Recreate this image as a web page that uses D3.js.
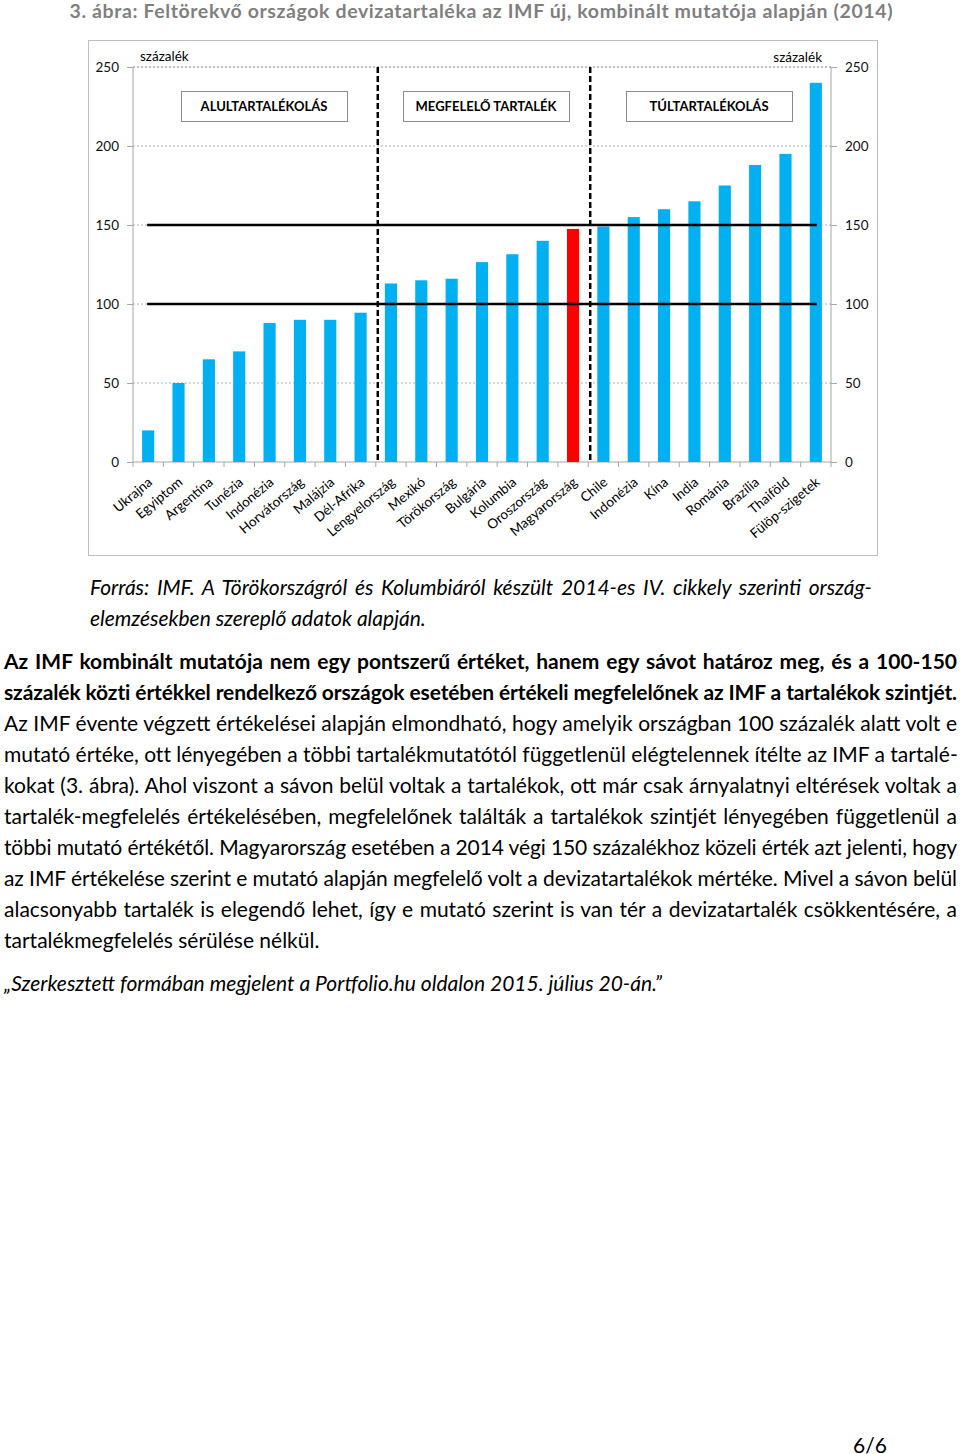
<!doctype html>
<html>
<head>
<meta charset="utf-8">
<title>3. ábra: Feltörekvő országok devizatartaléka</title>
<script src="https://d3js.org/d3.v7.min.js"></script>
<style>
    body { margin: 0; background: #fff; width: 960px; height: 1454px; position: relative; overflow: hidden; font-family: Lato, "Open Sans", sans-serif; }
    svg { position: absolute; left: 0; top: 0; }
    .txt { position: absolute; font-size: 21px; line-height: 31px; color: #000; }
    .txt div { white-space: nowrap; height: 31px; }
    .just { text-align: justify; text-align-last: justify; }
</style>
</head>
<body>
<svg id="chart" width="960" height="1454"></svg>

<script>
// data
const countries = ["Ukrajna", "Egyiptom", "Argentína", "Tunézia", "Indonézia", "Horvátország", "Malájzia", "Dél-Afrika",
    "Lengyelország", "Mexikó", "Törökország", "Bulgária", "Kolumbia", "Oroszország", "Magyarország",
    "Chile", "Indonézia", "Kína", "India", "Románia", "Brazília", "Thaiföld", "Fülöp-szigetek"];
const values = [20, 50, 65, 70, 88, 90, 90, 94.5, 113, 115, 116, 126.5, 131.5, 140, 147.5,
    149, 155, 160, 165, 175, 188, 195, 240];
const highlight = 14; // Magyarország
const zoneLabels = ["ALULTARTALÉKOLÁS", "MEGFELELŐ TARTALÉK", "TÚLTARTALÉKOLÁS"];
const zoneBreaks = [8, 15]; // first bar index of the 2nd and 3rd zone
const bandLines = [100, 150];
const yTicks = [0, 50, 100, 150, 200, 250];

const title = "3. ábra: Feltörekvő országok devizatartaléka az IMF új, kombinált mutatója alapján (2014)";
const sourceLines = ["Forrás: IMF. A Törökországról és Kolumbiáról készült 2014-es IV. cikkely szerinti ország-",
    "elemzésekben szereplő adatok alapján."];
const boldLines = ["Az IMF kombinált mutatója nem egy pontszerű értéket, hanem egy sávot határoz meg, és a 100-150",
    "százalék közti értékkel rendelkező országok esetében értékeli megfelelőnek az IMF a tartalékok szintjét."];
const bodyLines = ["Az IMF évente végzett értékelései alapján elmondható, hogy amelyik országban 100 százalék alatt volt e",
    "mutató értéke, ott lényegében a többi tartalékmutatótól függetlenül elégtelennek ítélte az IMF a tartalé-",
    "kokat (3. ábra). Ahol viszont a sávon belül voltak a tartalékok, ott már csak árnyalatnyi eltérések voltak a",
    "tartalék-megfelelés értékelésében, megfelelőnek találták a tartalékok szintjét lényegében függetlenül a",
    "többi mutató értékétől. Magyarország esetében a 2014 végi 150 százalékhoz közeli érték azt jelenti, hogy",
    "az IMF értékelése szerint e mutató alapján megfelelő volt a devizatartalékok mértéke. Mivel a sávon belül",
    "alacsonyabb tartalék is elegendő lehet, így e mutató szerint is van tér a devizatartalék csökkentésére, a",
    "tartalékmegfelelés sérülése nélkül."];
const quote = "„Szerkesztett formában megjelent a Portfolio.hu oldalon 2015. július 20-án.”";
const pageNo = "6/6";

const svg = d3.select("#chart");
const plotL = 133, plotR = 831, plotT = 67, plotB = 462;

const x = d3.scaleBand()
    .domain(d3.range(countries.length))
    .range([plotL, plotR])
    .paddingInner(0.6)
    .paddingOuter(0.3);
const y = d3.scaleLinear().domain([0, 250]).range([plotB, plotT]);
const bw = x.bandwidth();
const step = x.step();

// title
svg.append("text")
    .attr("x", 481).attr("y", 18)
    .attr("text-anchor", "middle")
    .attr("textLength", 823).attr("lengthAdjust", "spacing")
    .style("font-size", "19.5px").style("font-weight", "bold").style("fill", "#7f7f7f")
    .text(title);

// chart frame
svg.append("rect")
    .attr("x", 88.5).attr("y", 40.5).attr("width", 789).attr("height", 515)
    .attr("fill", "#fff").attr("stroke", "#bfbfbf");

// gridlines
svg.selectAll(".grid")
    .data(yTicks.filter(d => d > 0))
    .enter().append("line")
    .attr("x1", plotL).attr("x2", plotR)
    .attr("y1", d => y(d)).attr("y2", d => y(d))
    .attr("stroke", d => d === 250 ? "#808080" : "#b0b0b0")
    .attr("stroke-dasharray", "2,2");

// axes
const yLeft = d3.axisLeft(y).tickValues(yTicks).tickSize(6).tickPadding(8);
const yRight = d3.axisRight(y).tickValues(yTicks).tickSize(6).tickPadding(8);
[[plotL, yLeft], [plotR, yRight]].forEach(([xx, ax]) => {
    const g = svg.append("g").attr("transform", `translate(${xx},0)`).call(ax);
    g.select(".domain").attr("stroke", "#a6a6a6").attr("d", `M0,${plotT}V${plotB}`);
    g.selectAll(".tick line").attr("stroke", "#a6a6a6");
    g.selectAll(".tick text").style("font-size", "13.5px").style("font-family", "Lato").attr("fill", "#111");
});

// x axis with ticks between categories
svg.append("line")
    .attr("x1", plotL).attr("x2", plotR).attr("y1", plotB).attr("y2", plotB)
    .attr("stroke", "#a6a6a6");
svg.selectAll(".xtick")
    .data(d3.range(countries.length + 1))
    .enter().append("line")
    .attr("x1", i => plotL + i * step).attr("x2", i => plotL + i * step)
    .attr("y1", plotB).attr("y2", plotB + 5)
    .attr("stroke", "#a6a6a6");

// bars
svg.selectAll(".bar")
    .data(values)
    .enter().append("rect")
    .attr("class", "bar")
    .attr("x", (d, i) => x(i))
    .attr("y", d => y(d))
    .attr("width", bw)
    .attr("height", d => y(0) - y(d))
    .attr("fill", (d, i) => i === highlight ? "#ff0000" : "#00b0f0");

// solid band lines at 100 and 150
svg.selectAll(".band")
    .data(bandLines)
    .enter().append("line")
    .attr("x1", x(0) + bw / 2 - 1).attr("x2", x(countries.length - 1) + bw / 2 + 1)
    .attr("y1", d => y(d)).attr("y2", d => y(d))
    .attr("stroke", "#000").attr("stroke-width", 2.5);

// dashed zone separators
svg.selectAll(".sep")
    .data(zoneBreaks)
    .enter().append("line")
    .attr("x1", i => x(i) - (step - bw) / 2 + 2).attr("x2", i => x(i) - (step - bw) / 2 + 2)
    .attr("y1", y(250)).attr("y2", y(0))
    .attr("stroke", "#000").attr("stroke-width", 2.5).attr("stroke-dasharray", "6,3");

// zone boxes
const boxCx = [264, 486, 709];
const boxes = svg.selectAll(".zone").data(zoneLabels).enter().append("g");
boxes.append("rect")
    .attr("x", (d, i) => boxCx[i] - 83 + 0.5).attr("y", 91.5)
    .attr("width", 166).attr("height", 30)
    .attr("fill", "#fff").attr("stroke", "#8c8c8c");
boxes.append("text")
    .attr("x", (d, i) => boxCx[i]).attr("y", 111)
    .attr("text-anchor", "middle")
    .style("font-size", "13px").style("font-weight", "bold")
    .text(d => d);

// unit labels
svg.append("text").attr("x", 140).attr("y", 61).style("font-size", "13.5px").text("százalék");
svg.append("text").attr("x", 822).attr("y", 62).attr("text-anchor", "end").style("font-size", "13.5px").text("százalék");

// category labels
svg.selectAll(".xlab")
    .data(countries)
    .enter().append("text")
    .attr("text-anchor", "end")
    .attr("transform", (d, i) => `translate(${x(i) + bw / 2 + 2},${plotB + 18}) rotate(-40)`)
    .attr("dy", "0.35em")
    .style("font-size", "13.5px")
    .text(d => d);

// text below chart
function block(lines, opts) {
    const div = d3.select("body").append("div").attr("class", "txt")
        .style("left", opts.left + "px").style("top", opts.top + "px")
        .style("width", opts.width + "px");
    if (opts.weight) div.style("font-weight", opts.weight);
    if (opts.italic) div.style("font-style", "italic");
    lines.forEach((t, i) => {
        const ln = div.append("div").text(t);
        if (opts.justify && i < lines.length - (opts.lastFree ? 1 : 0)) ln.classed("just", true);
    });
    // squeeze lines that are wider than the column
    div.selectAll("div").each(function () {
        const el = this;
        const probe = document.createElement("span");
        probe.textContent = el.textContent;
        el.textContent = "";
        el.appendChild(probe);
        const w = probe.getBoundingClientRect().width;
        el.textContent = probe.textContent;
        if (w > opts.width) {
            el.style.letterSpacing = ((opts.width - w) / el.textContent.length) + "px";
        }
    });
}

block(sourceLines, { left: 90, top: 570.5, width: 782, italic: true, justify: true, lastFree: true });
block(boldLines, { left: 4, top: 644.5, width: 953, weight: "bold", justify: true });
block(bodyLines, { left: 4, top: 706.5, width: 953, justify: true, lastFree: true });
block([quote], { left: 4, top: 966.5, width: 953, italic: true });
block([pageNo], { left: 853, top: 1428.5, width: 60 });
</script>
</body>
</html>
